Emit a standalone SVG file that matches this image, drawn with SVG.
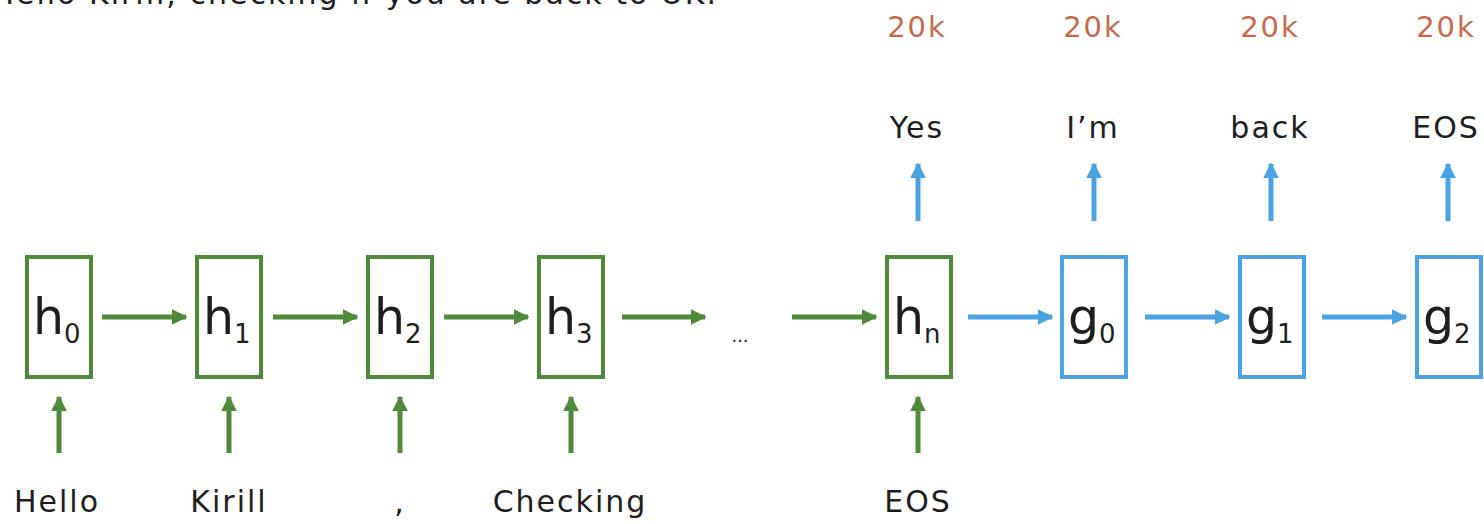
<svg xmlns="http://www.w3.org/2000/svg" width="1484" height="524" viewBox="0 0 1484 524">
  <style>
    text { font-family: "DejaVu Sans", "Liberation Sans", sans-serif; fill: #1e1e1e; }
    .word { font-size: 30px; text-anchor: middle; letter-spacing: 2px; }
    .count { font-size: 29px; text-anchor: middle; letter-spacing: 2px; fill: #c8694b; }
    .sym { font-size: 49px; }
    .sub { font-size: 26px; }
    .enc { fill: #fff; stroke: #4f8a3b; stroke-width: 4; }
    .dec { fill: #fff; stroke: #4ba3e3; stroke-width: 4; }
    .g { stroke: #4f8a3b; stroke-width: 5; fill: none; }
    .b { stroke: #4ba3e3; stroke-width: 5; fill: none; }
  </style>
  <defs>
    <marker id="headG" viewBox="0 0 10 10" refX="9" refY="5" markerWidth="3.2" markerHeight="3.2" markerUnits="strokeWidth" orient="auto">
      <path d="M0,0 L10,5 L0,10 z" fill="#4f8a3b"/>
    </marker>
    <marker id="headB" viewBox="0 0 10 10" refX="9" refY="5" markerWidth="3.2" markerHeight="3.2" markerUnits="strokeWidth" orient="auto">
      <path d="M0,0 L10,5 L0,10 z" fill="#4ba3e3"/>
    </marker>
  </defs>
  <rect width="1484" height="524" fill="#fff"/>

  <!-- source sentence, running off the top edge -->
  <text x="718" y="4" font-size="30" letter-spacing="2" text-anchor="end" fill="#333">Hello Kirill, checking if you are back to UK.</text>

  <g id="connectors">
    <!-- encoder chain -->
    <line class="g" x1="102" y1="317" x2="186" y2="317" marker-end="url(#headG)"/>
    <line class="g" x1="273" y1="317" x2="357" y2="317" marker-end="url(#headG)"/>
    <line class="g" x1="444" y1="317" x2="528" y2="317" marker-end="url(#headG)"/>
    <line class="g" x1="622" y1="317" x2="705" y2="317" marker-end="url(#headG)"/>
    <line class="g" x1="792" y1="317" x2="876" y2="317" marker-end="url(#headG)"/>
    <!-- encoder inputs -->
    <line class="g" x1="59" y1="453" x2="59" y2="397" marker-end="url(#headG)"/>
    <line class="g" x1="229" y1="453" x2="229" y2="397" marker-end="url(#headG)"/>
    <line class="g" x1="400" y1="453" x2="400" y2="397" marker-end="url(#headG)"/>
    <line class="g" x1="571" y1="453" x2="571" y2="397" marker-end="url(#headG)"/>
    <line class="g" x1="918" y1="453" x2="918" y2="397" marker-end="url(#headG)"/>
    <!-- decoder chain -->
    <line class="b" x1="968" y1="317" x2="1052" y2="317" marker-end="url(#headB)"/>
    <line class="b" x1="1145" y1="317" x2="1229" y2="317" marker-end="url(#headB)"/>
    <line class="b" x1="1322" y1="317" x2="1406" y2="317" marker-end="url(#headB)"/>
    <!-- decoder outputs -->
    <line class="b" x1="918" y1="221" x2="918" y2="164" marker-end="url(#headB)"/>
    <line class="b" x1="1094" y1="221" x2="1094" y2="164" marker-end="url(#headB)"/>
    <line class="b" x1="1271" y1="221" x2="1271" y2="164" marker-end="url(#headB)"/>
    <line class="b" x1="1448" y1="221" x2="1448" y2="164" marker-end="url(#headB)"/>
  </g>

  <text x="740" y="342" font-size="18" text-anchor="middle">...</text>

  <g id="h0"><rect class="enc" x="27" y="257" width="64" height="120"/>
    <text x="33" y="334"><tspan class="sym">h</tspan><tspan class="sub" dy="9">0</tspan></text></g>
  <g id="h1"><rect class="enc" x="197" y="257" width="64" height="120"/>
    <text x="203" y="334"><tspan class="sym">h</tspan><tspan class="sub" dy="9">1</tspan></text></g>
  <g id="h2"><rect class="enc" x="368" y="257" width="64" height="120"/>
    <text x="374" y="334"><tspan class="sym">h</tspan><tspan class="sub" dy="9">2</tspan></text></g>
  <g id="h3"><rect class="enc" x="539" y="257" width="64" height="120"/>
    <text x="545" y="334"><tspan class="sym">h</tspan><tspan class="sub" dy="9">3</tspan></text></g>
  <g id="hn"><rect class="enc" x="887" y="257" width="64" height="120"/>
    <text x="893" y="334"><tspan class="sym">h</tspan><tspan class="sub" dy="9">n</tspan></text></g>
  <g id="g0"><rect class="dec" x="1062" y="257" width="64" height="120"/>
    <text x="1068" y="334"><tspan class="sym">g</tspan><tspan class="sub" dy="9">0</tspan></text></g>
  <g id="g1"><rect class="dec" x="1240" y="257" width="64" height="120"/>
    <text x="1246" y="334"><tspan class="sym">g</tspan><tspan class="sub" dy="9">1</tspan></text></g>
  <g id="g2"><rect class="dec" x="1417" y="257" width="64" height="120"/>
    <text x="1423" y="334"><tspan class="sym">g</tspan><tspan class="sub" dy="9">2</tspan></text></g>

  <!-- input tokens -->
  <text class="word" x="57" y="512">Hello</text>
  <text class="word" x="229" y="512">Kirill</text>
  <text class="word" x="400" y="512">,</text>
  <text class="word" x="570" y="512">Checking</text>
  <text class="word" x="918" y="512">EOS</text>

  <!-- output tokens -->
  <text class="word" x="917" y="138">Yes</text>
  <text class="word" x="1093" y="138">I’m</text>
  <text class="word" x="1270" y="138">back</text>
  <text class="word" x="1446" y="138">EOS</text>

  <!-- vocabulary sizes -->
  <text class="count" x="917" y="37">20k</text>
  <text class="count" x="1093" y="37">20k</text>
  <text class="count" x="1270" y="37">20k</text>
  <text class="count" x="1446" y="37">20k</text>
</svg>
